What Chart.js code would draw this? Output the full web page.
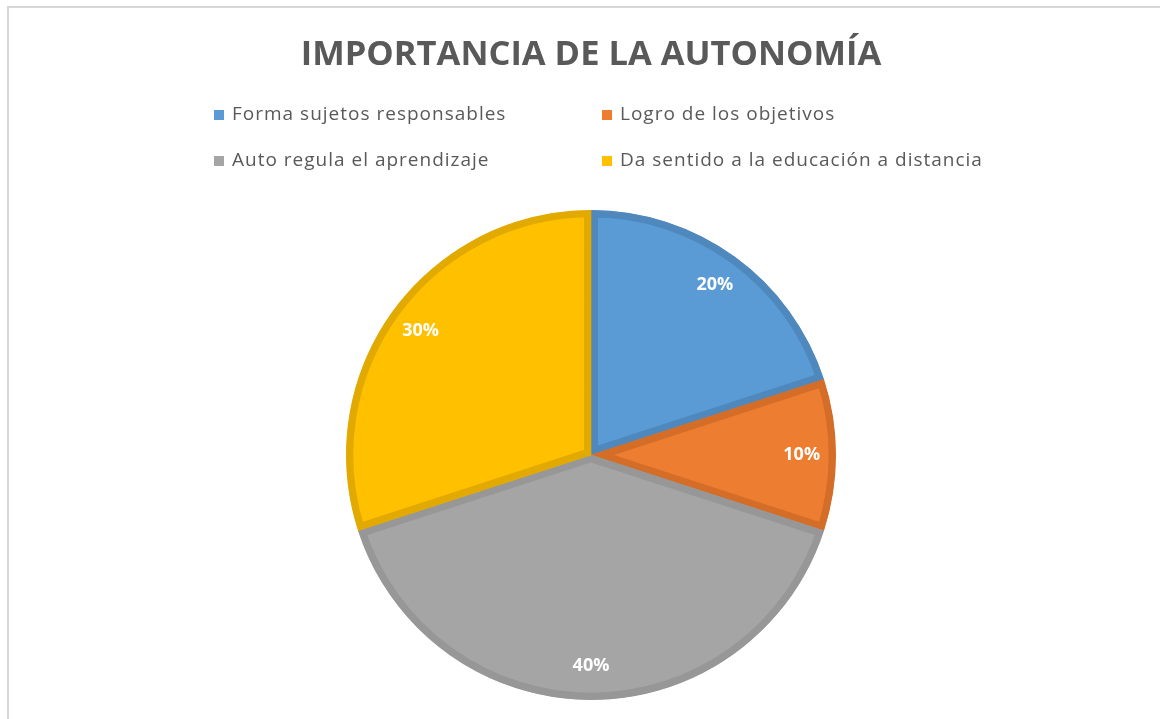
<!DOCTYPE html>
<html>
<head>
<meta charset="utf-8">
<script src="https://cdn.jsdelivr.net/npm/chart.js@4.4.1/dist/chart.umd.min.js"></script>
<style>
  html, body { margin: 0; padding: 0; background: #fff; }
  .wrap { position: relative; width: 1160px; height: 719px; }
  .frame { position: absolute; left: 7px; top: 6px; right: 0; bottom: 0;
           border-top: 2px solid #d6d6d6; border-left: 2px solid #d6d6d6; }
  canvas { position: absolute; left: 0; top: 0; }
</style>
</head>
<body>
<div class="wrap">
  <div class="frame"></div>
  <canvas id="myChart" width="1160" height="719"></canvas>
</div>
<script>
// data
const titleText = "IMPORTANCIA DE LA AUTONOMÍA";
const labels = [
  "Forma sujetos responsables",
  "Logro de los objetivos",
  "Auto regula el aprendizaje",
  "Da sentido a la educación a distancia",
];
const values = [20, 10, 40, 30];
const fillColors = ["#5b9bd5", "#ed7d31", "#a5a5a5", "#ffc000"];
const edgeColors = ["#4e88bd", "#d36d28", "#979797", "#e2aa00"];

const textGray = "#595959";

// legend in two columns, drawn above the pie
const gridLegend = {
  id: "gridLegend",
  afterDraw(chart) {
    const ctx = chart.ctx;
    const cols = [214, 602];
    const rows = [115, 161];
    ctx.save();
    ctx.font = "19px 'Open Sans'";
    ctx.letterSpacing = "1px";
    ctx.textBaseline = "middle";
    chart.data.labels.forEach((lab, i) => {
      const x = cols[i % 2];
      const y = rows[Math.floor(i / 2)];
      ctx.fillStyle = fillColors[i];
      ctx.fillRect(x, y - 5, 10, 10);
      ctx.fillStyle = textGray;
      ctx.fillText(lab, x + 18, y);
    });
    ctx.restore();
  },
};

// percent labels inside the slices
const pctLabels = {
  id: "pctLabels",
  afterDatasetsDraw(chart) {
    const ctx = chart.ctx;
    const meta = chart.getDatasetMeta(0);
    const total = values.reduce((a, b) => a + b, 0);
    ctx.save();
    ctx.font = "bold 18px 'Open Sans'";
    ctx.fillStyle = "#ffffff";
    ctx.textAlign = "center";
    ctx.textBaseline = "middle";
    meta.data.forEach((arc, i) => {
      const p = arc.getProps(["x", "y", "startAngle", "endAngle", "outerRadius"], true);
      const mid = (p.startAngle + p.endAngle) / 2;
      const r = p.outerRadius * 0.86;
      const txt = Math.round((values[i] / total) * 100) + "%";
      ctx.fillText(txt, p.x + Math.cos(mid) * r, p.y + Math.sin(mid) * r);
    });
    ctx.restore();
  },
};

const config = {
  type: "pie",
  data: {
    labels: labels,
    datasets: [
      {
        data: values,
        backgroundColor: fillColors,
        borderColor: edgeColors,
        borderWidth: 7,
        borderAlign: "inner",
      },
    ],
  },
  options: {
    responsive: false,
    animation: false,
    radius: 245,
    layout: { padding: { left: 22, right: 0, top: 0, bottom: 0 } },
    plugins: {
      legend: { display: false },
      tooltip: { enabled: false },
      title: {
        display: true,
        text: titleText,
        color: textGray,
        font: { family: "'Open Sans'", size: 34.5, weight: "bold", lineHeight: 1.2 },
        padding: { top: 34, bottom: 115.6 },
      },
    },
  },
  plugins: [gridLegend, pctLabels],
};

var myChart = new Chart(document.getElementById("myChart"), config);
</script>
</body>
</html>
